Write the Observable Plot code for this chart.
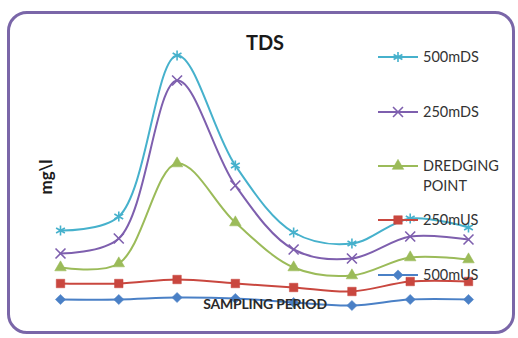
<!DOCTYPE html>
<html>
<head>
<meta charset="utf-8">
<script src="https://cdn.jsdelivr.net/npm/d3@7"></script>
<script src="https://cdn.jsdelivr.net/npm/@observablehq/plot@0.6"></script>
<style>
  html, body { margin: 0; padding: 0; background: #fff; }
  #wrap { position: relative; width: 518px; height: 338px; overflow: hidden; font-family: Lato, "Open Sans", sans-serif; }
  #frame { position: absolute; left: 7px; top: 11px; width: 502px; height: 317px; border: 3px solid #7a66a8; border-radius: 20px; }
  #chart { position: absolute; left: 0; top: 0; }
  .lbl { position: absolute; color: #1a1a1a; font-weight: bold; white-space: nowrap; }
  #title { left: 0; width: 530px; top: 30px; text-align: center; font-size: 20px; }
  #ylab { left: 45px; top: 177px; font-size: 17px; transform: translate(-50%, -50%) rotate(-90deg); }
  #xlab { left: 0; width: 530px; top: 295px; text-align: center; font-size: 14px; color: #2a2a2a; letter-spacing: -0.2px; }
  #legend { position: absolute; left: 376px; top: 0; }
  .item { position: absolute; left: 0; display: flex; align-items: flex-start; font-size: 14.5px; color: #333; }
  .item svg { display: block; }
  .item span { margin-left: 3px; line-height: 20px; }
</style>
</head>
<body>
<div id="wrap">
  <div id="frame"></div>
  <div id="chart"></div>
  <div class="lbl" id="title">TDS</div>
  <div class="lbl" id="ylab">mg\l</div>
  <div class="lbl" id="xlab">SAMPLING PERIOD</div>
  <div id="legend"></div>
</div>
<script>
// Sampling periods (no tick labels shown in the reference)
const periods = [1, 2, 3, 4, 5, 6, 7, 8];

// Series values (relative TDS)
const s500mDS  = [80, 94, 255, 145, 78, 67, 92, 83];
const s250mDS  = [57, 72, 230, 125, 61, 52, 74, 71];
const sDredging = [43, 47, 147, 88, 43, 35, 53, 51];
const s250mUS  = [27, 27, 31, 27, 23, 19, 29, 29];
const s500mUS  = [11, 11, 13, 12, 8, 5, 11, 11];

const seriesNames = ["500mDS", "250mDS", "DREDGING POINT", "250mUS", "500mUS"];
const seriesValues = [s500mDS, s250mDS, sDredging, s250mUS, s500mUS];
const seriesColors = ["#46b1cc", "#7e5fae", "#9bbb59", "#c9473f", "#4a80c6"];
const seriesSymbols = ["asterisk", "times", "triangle", "square", "diamond2"];
const seriesR = [4.8, 4.6, 4.3, 4.8, 4.6];
const legendTops = [47, 102, 156, 210, 265];

const rows = [];
seriesNames.forEach((name, i) => {
  seriesValues[i].forEach((v, j) => rows.push({series: name, idx: i, period: periods[j], value: v}));
});

const marks = [];
// draw from bottom series to top so upper lines sit above
for (let i = seriesNames.length - 1; i >= 0; i--) {
  const data = rows.filter(d => d.idx === i);
  marks.push(Plot.line(data, {x: "period", y: "value", stroke: seriesColors[i], strokeWidth: 2, curve: "catmull-rom"}));
  const filled = seriesSymbols[i] !== "asterisk" && seriesSymbols[i] !== "times";
  marks.push(Plot.dot(data, {
    x: "period", y: "value", symbol: () => seriesSymbols[i], r: seriesR[i],
    fill: filled ? seriesColors[i] : "none",
    stroke: seriesColors[i], strokeWidth: filled ? 0.5 : 1.6
  }));
}

const chart = Plot.plot({
  width: 518,
  height: 338,
  margin: 0,
  x: {domain: [1, 8], range: [60, 468], axis: null},
  y: {domain: [0, 260], range: [310, 50], axis: null},
  style: {background: "transparent", overflow: "visible"},
  marks
});
document.getElementById("chart").appendChild(chart);

// Legend
const symMap = {asterisk: d3.symbolAsterisk, times: d3.symbolTimes, triangle: d3.symbolTriangle, square: d3.symbolSquare, diamond2: d3.symbolDiamond2};
const legend = d3.select("#legend");
seriesNames.forEach((name, i) => {
  const item = legend.append("div").attr("class", "item").style("top", legendTops[i] + "px");
  const svg = item.append("svg").attr("width", 44).attr("height", 20);
  svg.append("line").attr("x1", 2).attr("x2", 42).attr("y1", 10).attr("y2", 10)
    .attr("stroke", seriesColors[i]).attr("stroke-width", 2);
  const filled = seriesSymbols[i] !== "asterisk" && seriesSymbols[i] !== "times";
  svg.append("path").attr("transform", "translate(22,10)")
    .attr("d", d3.symbol(symMap[seriesSymbols[i]], Math.PI * seriesR[i] * seriesR[i])())
    .attr("fill", filled ? seriesColors[i] : "none")
    .attr("stroke", seriesColors[i]).attr("stroke-width", filled ? 0.5 : 1.6);
  const words = name.split(" ");
  item.append("span").html(words.join("<br>"));
});
</script>
</body>
</html>
